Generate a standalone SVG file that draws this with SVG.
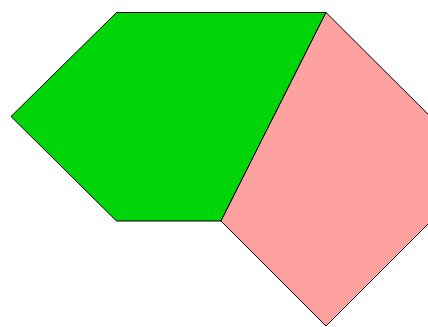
<svg xmlns="http://www.w3.org/2000/svg" width="428" height="327" viewBox="0 0 428 327">
<style>.s{stroke:#000;stroke-width:1;stroke-linejoin:miter}</style>
<rect width="428" height="327" fill="#fff"/>
<g id="green"><polygon class="s" fill="#00d50a" points="116.5,12.5 326,12.5 221,221 116.5,221 11,116.5"/></g>
<g id="pink"><polygon class="s" fill="#ffa1a1" points="326,12.5 483,169 326,326 221,221"/></g>
</svg>
